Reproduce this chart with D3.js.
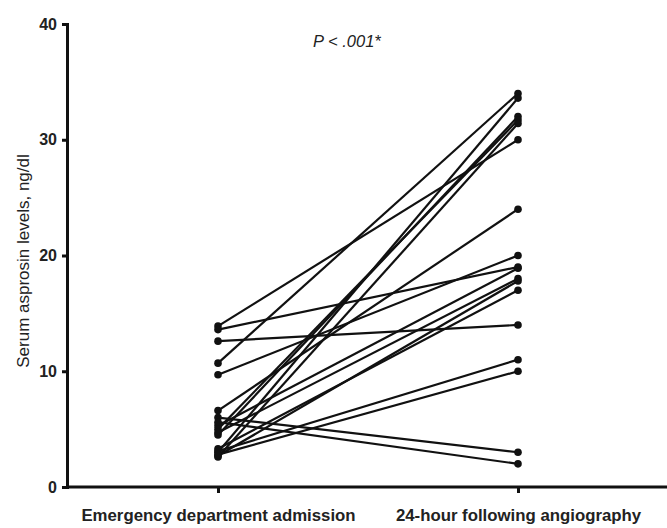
<!DOCTYPE html>
<html>
<head>
<meta charset="utf-8">
<script src="https://cdn.jsdelivr.net/npm/d3@7"></script>
<style>
  body { margin: 0; background: #fff; }
  svg { font-family: "Liberation Sans", Arial, sans-serif; }
</style>
</head>
<body>
<div id="chart-container"></div>
<script>
const groups = ["Emergency department admission", "24-hour following angiography"];
const yTicks = [0, 10, 20, 30, 40];

// paired values per patient
const admission = [10.7, 13.9, 3.0, 4.5, 5.0, 2.6, 6.6, 13.6, 9.7, 12.6, 5.3, 4.7, 2.7, 3.3, 3.1, 2.8, 6.0, 5.6];
const followUp  = [34.0, 30.0, 33.6, 32.0, 31.7, 31.4, 24.0, 19.0, 20.0, 14.0, 18.9, 18.0, 17.8, 17.0, 11.0, 10.0, 3.0, 2.0];

const W = 667, H = 528;
const svg = d3.select("#chart-container")
  .append("svg")
  .attr("width", W)
  .attr("height", H);

const x = d3.scalePoint().domain(groups).range([218, 518]);
const y = d3.scaleLinear().domain([0, 40]).range([487, 24]);

const pairs = admission.map((a, i) => ({ a, b: followUp[i] }));

// Lines
svg.selectAll(".pair")
  .data(pairs)
  .join("line")
  .attr("class", "pair")
  .attr("x1", x(groups[0])).attr("y1", d => y(d.a))
  .attr("x2", x(groups[1])).attr("y2", d => y(d.b))
  .attr("stroke", "#111")
  .attr("stroke-width", 2.2);

// Dots
const dots = pairs.flatMap(d => [{ g: groups[0], v: d.a }, { g: groups[1], v: d.b }]);
svg.selectAll(".dot")
  .data(dots)
  .join("circle")
  .attr("class", "dot")
  .attr("cx", d => x(d.g))
  .attr("cy", d => y(d.v))
  .attr("r", 3.8)
  .attr("fill", "#111");

// Y axis
const yAxis = svg.append("g")
  .attr("transform", "translate(67,0)")
  .call(d3.axisLeft(y).tickValues(yTicks).tickSize(5).tickPadding(5));
yAxis.select(".domain").attr("stroke-width", 3).attr("stroke", "#111");
yAxis.selectAll(".tick line").attr("stroke-width", 3).attr("stroke", "#111");
yAxis.selectAll(".tick text")
  .attr("font-size", 16).attr("font-weight", "bold").attr("fill", "#222")
  .attr("font-family", "Liberation Sans, Arial, sans-serif");

// X axis
const xAxis = svg.append("g")
  .attr("transform", "translate(0,487)")
  .call(d3.axisBottom(x).tickSize(6).tickPadding(16).tickSizeOuter(0));
xAxis.select(".domain").attr("d", "M66,0H667").attr("stroke-width", 3).attr("stroke", "#111");
xAxis.selectAll(".tick line").attr("stroke-width", 3).attr("stroke", "#111");
xAxis.selectAll(".tick text")
  .attr("font-size", 16.8).attr("font-weight", "bold").attr("fill", "#222")
  .attr("font-family", "Liberation Sans, Arial, sans-serif");

// Y label
svg.append("text")
  .attr("transform", "rotate(-90)")
  .attr("x", -261).attr("y", 29)
  .attr("text-anchor", "middle")
  .attr("font-size", 17)
  .attr("fill", "#222")
  .text("Serum asprosin levels, ng/dl");

// P value annotation
svg.append("text")
  .attr("x", 313).attr("y", 47)
  .attr("font-size", 16.5)
  .attr("font-style", "italic")
  .attr("fill", "#222")
  .text("P < .001*");
</script>
</body>
</html>
